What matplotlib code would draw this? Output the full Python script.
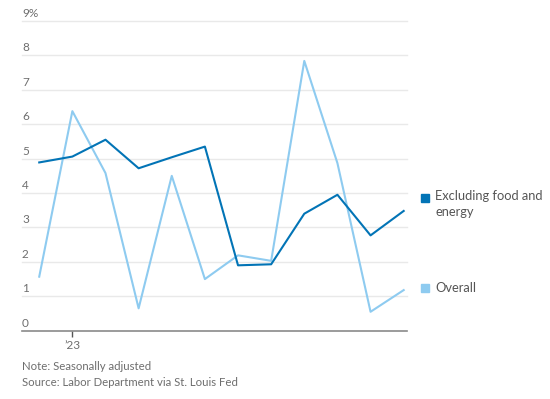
import matplotlib.pyplot as plt
from matplotlib.patches import Rectangle
import matplotlib.transforms as mtransforms

plt.rcParams['font.family'] = ['Lato', 'DejaVu Sans']

# monthly, Dec 2022 .. Nov 2023 (annualized % change)
months = list(range(12))
core = [4.89, 5.06, 5.55, 4.72, 5.04, 5.35, 1.90, 1.93, 3.40, 3.95, 2.77, 3.48]
overall = [1.57, 6.38, 4.58, 0.65, 4.50, 1.50, 2.19, 2.03, 7.84, 4.87, 0.55, 1.18]
y_ticks = [0, 1, 2, 3, 4, 5, 6, 7, 8, 9]
y_labels = ['0', '1', '2', '3', '4', '5', '6', '7', '8', '9%']
x_tick_pos = [1]
x_tick_labels = ['\u201923']

dark = '#0274b6'
light = '#8ecbf0'
txt = '#6e6e6e'

fig = plt.figure(figsize=(5.5, 3.99), dpi=100)
ax = fig.add_axes([22/550, 1 - 330.7/399, (407 - 22)/550, (330.7 - 21)/399])

for v in y_ticks[1:]:
    ax.axhline(v, color='#e9e9e9', lw=1, zorder=0, clip_on=False)
ax.axhline(0, color='#8a8a8a', lw=1.2, zorder=3, clip_on=False)

ax.plot(months, overall, color=light, lw=1.5, zorder=2)
ax.plot(months, core, color=dark, lw=1.5, zorder=2)

ax.set_xlim(-0.52, 11.1)
ax.set_ylim(0, 9)
for s in ax.spines.values():
    s.set_visible(False)
ax.set_yticks([])
ax.set_xticks(x_tick_pos)
ax.set_xticklabels(x_tick_labels, fontsize=8.5, color=txt)
ax.tick_params(axis='x', length=4, width=1, color='#555555', pad=3)

trans = mtransforms.blended_transform_factory(ax.transAxes, ax.transData)
for v, lab in zip(y_ticks, y_labels):
    ax.annotate(lab, (0, v), xycoords=trans, xytext=(0, 1.5), textcoords='offset points',
                ha='left', va='bottom', fontsize=8.5, color=txt)

# legend
fig.patches.append(Rectangle((421/550, 1 - 201.5/399), 8/550, 8/399,
                             transform=fig.transFigure, color=dark))
fig.patches.append(Rectangle((421/550, 1 - 291.5/399), 8/550, 8/399,
                             transform=fig.transFigure, color=light))
fig.text(435/550, 1 - 196.5/399, 'Excluding food and', fontsize=9.3, color='#555555', va='center')
fig.text(435/550, 1 - 211.5/399, 'energy', fontsize=9.3, color='#555555', va='center')
fig.text(435/550, 1 - 287.5/399, 'Overall', fontsize=9.3, color='#555555', va='center')

fig.text(22/550, 1 - 367/399, 'Note: Seasonally adjusted', fontsize=8.2, color=txt, va='center')
fig.text(22/550, 1 - 383/399, 'Source: Labor Department via St. Louis Fed', fontsize=8.2, color=txt, va='center')

fig.savefig('out.png', dpi=100)
